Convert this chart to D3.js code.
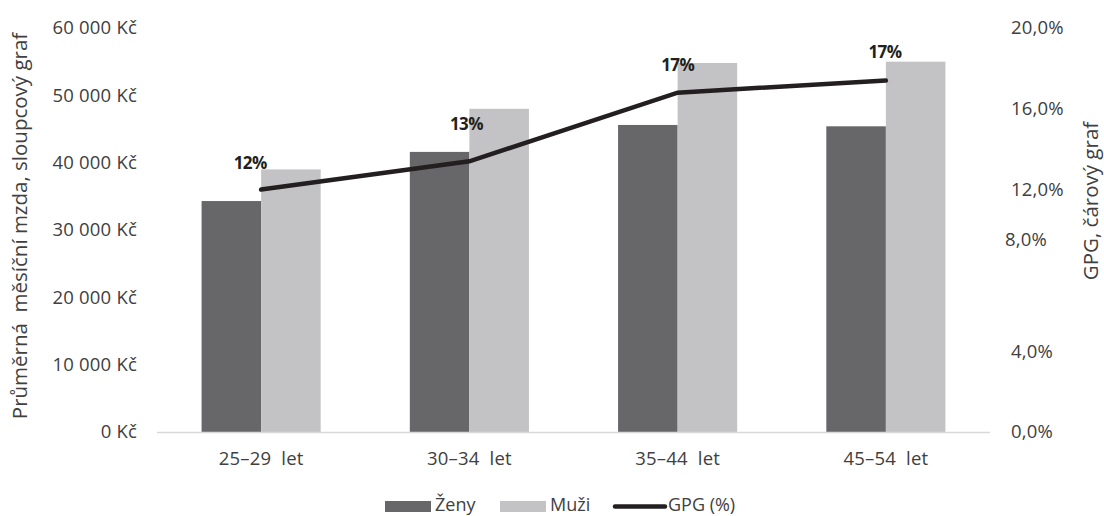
<!DOCTYPE html>
<html>
<head>
<meta charset="utf-8">
<script src="https://cdn.jsdelivr.net/npm/d3@7"></script>
<style>
  html, body { margin: 0; padding: 0; background: #fff; }
  svg { display: block; font-family: "Open Sans", Lato, sans-serif; }
  text { white-space: pre; }
</style>
</head>
<body>
<svg id="chart" width="1104" height="516"></svg>
<script>
// Average monthly wage by age group and sex, with the gender pay gap (GPG)
const categories = ["25–29  let", "30–34  let", "35–44  let", "45–54  let"];
const zeny = [34300, 41600, 45600, 45400];
const muzi = [39000, 48000, 54800, 55000];
const gpg = [0.120, 0.134, 0.168, 0.174];
const gpgLabels = ["12%", "13%", "17%", "17%"];
const wageTicks = [0, 10000, 20000, 30000, 40000, 50000, 60000];
const gpgTicks = [0, 0.04, 0.08, 0.12, 0.16, 0.20];
const seriesNames = ["Ženy", "Muži"];
const lineName = "GPG (%)";

const colors = { "Ženy": "#676769", "Muži": "#c3c3c5" };
const lineColor = "#231f20";
const textColor = "#404040";

const svg = d3.select("#chart");
const plot = { left: 157, right: 990, top: 28, bottom: 432 };

const locale = d3.formatLocale({
  decimal: ",", thousands: "\u00a0", grouping: [3], currency: ["", "\u00a0Kč"]
});
const fmtWage = locale.format("$,.0f");
const fmtPct = v => locale.format(".1f")(v * 100) + "%";

const x = d3.scaleBand().domain(categories)
  .range([plot.left, plot.right]).paddingInner(0.428).paddingOuter(0.214);
const xs = d3.scaleBand().domain(seriesNames).range([0, x.bandwidth()]);
const y = d3.scaleLinear().domain([0, 60000]).range([plot.bottom, plot.top]);
const yR = d3.scaleLinear().domain([0, 0.20]).range([plot.bottom, plot.top]);

const tickFont = 18.5;
const styleAxis = g => {
  g.attr("font-family", null).attr("font-size", tickFont);
  g.select(".domain").remove();
  g.selectAll("text").attr("fill", textColor).attr("letter-spacing", 0.2);
};

// Left axis (wages)
svg.append("g").attr("transform", `translate(${plot.left},0)`)
  .call(d3.axisLeft(y).tickValues(wageTicks).tickFormat(fmtWage).tickSize(0).tickPadding(20))
  .call(styleAxis);

// Right axis (GPG); the 8,0% label sits lifted in the layout
const rightNudge = new Map([[0.08, { dx: -6, dy: -31 }]]);
svg.append("g").attr("transform", `translate(${plot.right},0)`)
  .call(d3.axisRight(yR).tickValues(gpgTicks).tickFormat(fmtPct).tickSize(0).tickPadding(21))
  .call(styleAxis)
  .selectAll("text")
  .attr("transform", d => {
    const n = rightNudge.get(d);
    return n ? `translate(${n.dx},${n.dy})` : null;
  });

// Bars
const groups = svg.append("g").selectAll("g").data(categories).join("g")
  .attr("transform", d => `translate(${x(d)},0)`);
groups.selectAll("rect")
  .data((d, i) => [{ s: "Ženy", v: zeny[i] }, { s: "Muži", v: muzi[i] }])
  .join("rect")
  .attr("x", d => xs(d.s))
  .attr("width", xs.bandwidth())
  .attr("y", d => y(d.v))
  .attr("height", d => y(0) - y(d.v))
  .attr("fill", d => colors[d.s]);

// Baseline
svg.append("line")
  .attr("x1", plot.left).attr("x2", plot.right)
  .attr("y1", y(0) + 0.5).attr("y2", y(0) + 0.5)
  .attr("stroke", "#d9d9d9").attr("stroke-width", 1.5);

// Category axis
svg.append("g").attr("transform", `translate(0,${plot.bottom})`)
  .call(d3.axisBottom(x).tickSize(0).tickPadding(20))
  .call(styleAxis);

// GPG line
const cx = c => x(c) + x.bandwidth() / 2;
const line = d3.line().x((d, i) => cx(categories[i])).y(d => yR(d));
svg.append("path").datum(gpg)
  .attr("d", line)
  .attr("fill", "none")
  .attr("stroke", lineColor)
  .attr("stroke-width", 4.5)
  .attr("stroke-linecap", "round");

// GPG value labels
const labelNudge = [{ dx: -11, dy: -27 }, { dx: -3, dy: -37 }, { dx: 0, dy: -28 }, { dx: -1, dy: -28 }];
svg.append("g").selectAll("text").data(gpg).join("text")
  .attr("x", (d, i) => cx(categories[i]) + labelNudge[i].dx)
  .attr("y", (d, i) => yR(d) + labelNudge[i].dy)
  .attr("dy", "0.35em")
  .attr("text-anchor", "middle")
  .attr("font-size", 17).attr("font-weight", "bold").attr("fill", lineColor)
  .attr("letter-spacing", -0.6)
  .text((d, i) => gpgLabels[i]);

// Axis titles
svg.append("text")
  .attr("transform", "translate(20,226) rotate(-90)")
  .attr("text-anchor", "middle").attr("dy", "0.35em")
  .attr("font-size", 20.5).attr("fill", textColor)
  .text("Průměrná  měsíční mzda, sloupcový graf");
svg.append("text")
  .attr("transform", "translate(1091,201) rotate(-90)")
  .attr("text-anchor", "middle").attr("dy", "0.35em")
  .attr("font-size", 20.5).attr("fill", textColor)
  .text("GPG, čárový graf");

// Legend
const legend = svg.append("g").attr("font-size", 18).attr("fill", textColor);
const legendItems = [
  { name: "Ženy", kind: "rect", x0: 385 },
  { name: "Muži", kind: "rect", x0: 500 },
  { name: lineName, kind: "line", x0: 615 }
];
legendItems.forEach(it => {
  if (it.kind === "rect") {
    legend.append("rect").attr("x", it.x0).attr("y", 501).attr("width", 46).attr("height", 11)
      .attr("fill", colors[it.name]);
  } else {
    legend.append("line").attr("x1", it.x0).attr("x2", it.x0 + 50).attr("y1", 506.5).attr("y2", 506.5)
      .attr("stroke", lineColor).attr("stroke-width", 4.5).attr("stroke-linecap", "round");
  }
  legend.append("text").attr("x", it.x0 + (it.kind === "rect" ? 50 : 53)).attr("y", 511)
    .text(it.name);
});
</script>
</body>
</html>
